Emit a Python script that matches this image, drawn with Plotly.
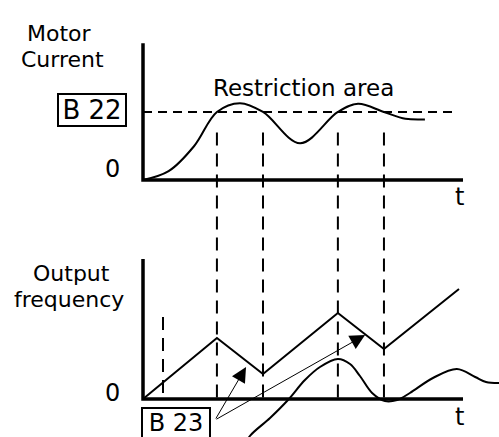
import plotly.graph_objects as go

W, H = 499, 437
FONT = "DejaVu Sans"

# ---- data -------------------------------------------------------------
# Moments where the motor current crosses the restriction level (B 22)
event_t = [2.31, 3.75, 6.09, 7.53]
ramp_mark_t = 0.625          # short guide at the start of the ramp
t_axis_end = 10.0

# Motor current (top panel); B 22 restriction level = 1.0
limit_level = 1.0
current_t = [0, 0.8, 1.6, 2.31, 3.03, 3.75, 4.91, 6.09, 6.72, 7.53, 8.2, 8.81]
current_v = [0, 0.13, 0.50, 1.00, 1.13, 1.00, 0.54, 1.00, 1.12, 1.00, 0.90, 0.89]

# Output frequency (bottom panel): ramps up, backs off while current is limited
freq_t = [0, 2.31, 3.75, 6.09, 7.53, 9.875]
freq_v = [0, 6.1, 2.5, 8.6, 5.0, 11.0]

# Current waveform drawn in the frequency panel
wave_t = [3.19, 3.34, 3.97, 4.53, 5.06, 5.53, 6.09, 6.47, 6.78, 7.16, 7.56, 7.94,
          8.34, 9.06, 9.81, 10.38, 10.72, 11.13]
wave_v = [-4.6, -3.7, -1.9, -0.1, 1.9, 3.2, 4.0, 3.5, 2.3, 0.6, -0.2, -0.1,
          0.6, 2.1, 3.0, 2.2, 1.7, 1.6]

# Arrows from the B 23 label to the deceleration segments
arrow_tail = (2.25, -2.1)
arrow_tips = [(3.22, 3.2), (6.94, 6.4)]

# ---- scales -----------------------------------------------------------
x_range = [-0.5, 11.125]
top_range = [-0.15, 2.02]
bot_range = [-3.8, 14.0]


def dom(top_px, bottom_px):
    return [1 - bottom_px / H, 1 - top_px / H]


x_dom = [127 / W, 1.0]
top_dom = dom(42.6, 190.2)
bot_dom = dom(259, 437)


def paper_y(v, rng, d):
    return d[0] + (v - rng[0]) / (rng[1] - rng[0]) * (d[1] - d[0])


fig = go.Figure()

line = dict(color="black", width=2)
fig.add_trace(go.Scatter(x=current_t, y=current_v, mode="lines",
                         line=dict(line, shape="spline", smoothing=1.0),
                         xaxis="x", yaxis="y", hoverinfo="skip"))
fig.add_trace(go.Scatter(x=freq_t, y=freq_v, mode="lines", line=line,
                         xaxis="x2", yaxis="y2", hoverinfo="skip"))
fig.add_trace(go.Scatter(x=wave_t, y=wave_v, mode="lines",
                         line=dict(line, shape="spline", smoothing=1.0),
                         xaxis="x2", yaxis="y2", hoverinfo="skip"))

shapes = []
axis_line = dict(color="black", width=3.5)
# L-shaped axes
shapes.append(dict(type="path", xref="x", yref="y", line=axis_line,
                   path=f"M 0,2.01 L 0,0 L {t_axis_end},0"))
shapes.append(dict(type="path", xref="x2", yref="y2", line=axis_line,
                   path=f"M 0,{bot_range[1]} L 0,0 L {t_axis_end},0"))
# restriction level
shapes.append(dict(type="line", xref="x", yref="y", x0=0, x1=9.8,
                   y0=limit_level, y1=limit_level,
                   line=dict(color="black", width=2, dash="9px,6px")))
# guides linking both panels
g_top = paper_y(0.7, top_range, top_dom)
g_bot = paper_y(0, bot_range, bot_dom)
for t in event_t:
    shapes.append(dict(type="line", xref="x", yref="paper", x0=t, x1=t,
                       y0=g_top, y1=g_bot,
                       line=dict(color="black", width=2, dash="13px,8px")))
shapes.append(dict(type="line", xref="x2", yref="y2", x0=ramp_mark_t, x1=ramp_mark_t,
                   y0=8.2, y1=0,
                   line=dict(color="black", width=2, dash="13px,8px")))

ann = []
txt = dict(family=FONT, size=22, color="black")


def label(text, xpx, ypx):
    return dict(text=text, xref="paper", yref="paper", x=xpx / W, y=1 - ypx / H,
                showarrow=False, font=txt, xanchor="center", yanchor="middle")


ann.append(label("Motor", 59, 33.5))
ann.append(label("Current", 62, 59.5))
ann.append(label("Output", 71, 273.5))
ann.append(label("frequency", 69, 299.5))
ann.append(dict(text="Restriction area", xref="x", yref="y", x=5.0, y=1.353,
                showarrow=False, font=dict(txt, size=23), xanchor="center",
                yanchor="middle"))
big = dict(txt, size=24)
for xr, yr, ys in (("x", "y", 11.5), ("x2", "y2", 6.5)):
    ann.append(dict(text="0", xref=xr, yref=yr, x=0, y=0, xshift=-21, yshift=ys,
                    xanchor="right", yanchor="middle", showarrow=False, font=big))
ann.append(dict(text="t", xref="x", yref="y", x=9.875, y=0, yshift=-17,
                showarrow=False, font=big, yanchor="middle"))
ann.append(dict(text="t", xref="x2", yref="y2", x=9.875, y=0, yshift=-18,
                showarrow=False, font=big, yanchor="middle"))
box = dict(showarrow=False, bordercolor="black", borderwidth=2, borderpad=0,
           width=66, height=30, bgcolor="white")
ann.append(dict(box, text="B 22", font=dict(txt, size=26), xref="x", yref="y",
                x=0, y=limit_level, xanchor="right", xshift=-16, yshift=2,
                yanchor="middle"))
ann.append(dict(box, text="B 23", font=dict(txt, size=24), valign="top",
                xref="x2", yref="y2", x=0, y=-0.8,
                xanchor="left", yanchor="top", xshift=-2))
for tip in arrow_tips:
    ann.append(dict(text="", xref="x2", yref="y2", axref="x2", ayref="y2",
                    x=tip[0], y=tip[1], ax=arrow_tail[0], ay=arrow_tail[1],
                    showarrow=True, arrowhead=2, arrowsize=3, arrowwidth=1,
                    arrowcolor="black", standoff=0, startstandoff=0))

yax = dict(showgrid=False, zeroline=False, showline=False, ticks="",
           showticklabels=False)
xax = dict(visible=False, range=x_range, domain=x_dom)

fig.update_layout(
    width=W, height=H, margin=dict(l=0, r=0, t=0, b=0),
    paper_bgcolor="white", plot_bgcolor="white", showlegend=False,
    xaxis=dict(xax, anchor="y"),
    yaxis=dict(yax, range=top_range, domain=top_dom, anchor="x"),
    xaxis2=dict(xax, anchor="y2"),
    yaxis2=dict(yax, range=bot_range, domain=bot_dom, anchor="x2"),
    shapes=shapes, annotations=ann,
)

fig.write_html("out.html", config={"displayModeBar": False})
